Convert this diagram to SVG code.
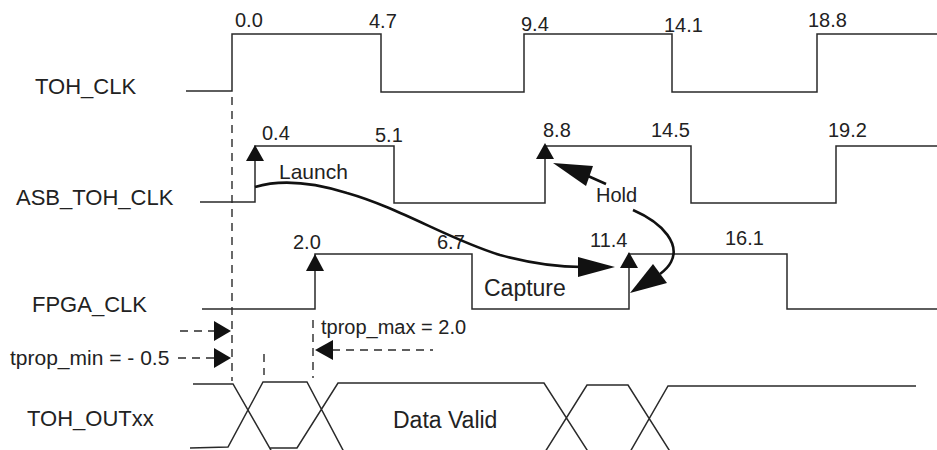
<svg xmlns="http://www.w3.org/2000/svg" width="937" height="450" viewBox="0 0 937 450">
<style>
  .wave { fill: none; stroke: #2a2a2a; stroke-width: 1.5; }
  .dash { fill: none; stroke: #2a2a2a; stroke-width: 1.4; stroke-dasharray: 8 6; }
  .curve { fill: none; stroke: #111; stroke-width: 2.6; }
  .head { fill: #111; stroke: none; }
  text { font-family: "Liberation Sans", Arial, sans-serif; fill: #222; }
  .lbl { font-size: 22px; }
  .num { font-size: 20px; }
</style>
<rect width="937" height="450" fill="#fff"/>

<g id="toh_clk">
  <text class="lbl" x="35" y="94">TOH_CLK</text>
  <path class="wave" d="M186,91 H232 V34 H381 V92 H524 V34 H672 V92 H817 V34 H937"/>
  <text class="num" x="235" y="27">0.0</text>
  <text class="num" x="369" y="28">4.7</text>
  <text class="num" x="521" y="31">9.4</text>
  <text class="num" x="664" y="32">14.1</text>
  <text class="num" x="808" y="27">18.8</text>
</g>

<g id="asb_toh_clk">
  <text class="lbl" x="16" y="205">ASB_TOH_CLK</text>
  <path class="wave" d="M200,202 H255 V146 H394 V203 H545 V146 H691 V203 H836 V146 H937"/>
  <text class="num" x="262" y="140">0.4</text>
  <text class="num" x="375" y="142">5.1</text>
  <text class="num" x="543" y="137">8.8</text>
  <text class="num" x="651" y="137">14.5</text>
  <text class="num" x="828" y="137">19.2</text>
</g>

<g id="fpga_clk">
  <text class="lbl" x="32" y="312">FPGA_CLK</text>
  <path class="wave" d="M202,309 H315 V254 H472 V309 H629 V254 H787 V309 H937"/>
  <text class="num" x="293" y="249">2.0</text>
  <text class="num" x="437" y="249">6.7</text>
  <text class="num" x="590" y="247">11.4</text>
  <text class="num" x="725" y="245">16.1</text>
</g>

<g id="toh_outxx">
  <text class="lbl" x="27" y="426">TOH_OUTxx</text>
  <path class="wave" d="M193,384 H233 L272,452 M190,448 L228,447 L263,382 H307 L344,452 M270,448 H297 L338,383 H544 L589,453 M545,452 L587,385 H628 L671,453 M630,452 L668,386 H916"/>
  <text class="lbl" x="393" y="428" style="font-size:23px">Data Valid</text>
</g>

<g id="timing">
  <text x="10" y="365" style="font-size:21px">tprop_min = - 0.5</text>
  <text x="321" y="334" style="font-size:20px">tprop_max = 2.0</text>
  <line class="dash" x1="232" y1="97" x2="232" y2="381"/>
  <line class="dash" x1="264" y1="354" x2="264" y2="375"/>
  <line class="dash" x1="313" y1="320" x2="313" y2="378"/>
  <line class="dash" x1="180" y1="331" x2="215" y2="331"/>
  <polygon class="head" points="231,331 214,321 214,341"/>
  <line class="dash" x1="178" y1="358" x2="215" y2="358"/>
  <polygon class="head" points="231,358 214,348 214,368"/>
  <line class="dash" x1="332" y1="350" x2="433" y2="350"/>
  <polygon class="head" points="315,350 333,340 333,360"/>
</g>

<g id="clock_edges">
  <polygon class="head" points="255,145 246,161 264,161"/>
  <polygon class="head" points="315,254 306,271 324,271"/>
  <polygon class="head" points="545,143 536,159 554,159"/>
  <polygon class="head" points="629,252 620,268 638,268"/>
</g>

<g id="connectors">
  <g id="launch">
    <text x="279" y="179" style="font-size:21px">Launch</text>
    <path class="curve" d="M255,187 C275,181 305,180 347,193 C400,208 450,240 500,255 C530,263 555,267 582,267"/>
    <polygon class="head" points="615,267 578,257 578,277"/>
  </g>
  <g id="capture">
    <text x="484" y="296" style="font-size:23px">Capture</text>
  </g>
  <g id="hold">
    <text x="596" y="202" style="font-size:20px">Hold</text>
    <path class="curve" d="M606,184 L588,176"/>
    <polygon class="head" points="553,163 593,166 586,186"/>
    <path class="curve" d="M633,210 C665,224 680,245 671,262 C668,268 664,271 660,274"/>
    <polygon class="head" points="630,293 653,264 667,283"/>
  </g>
</g>
</svg>
